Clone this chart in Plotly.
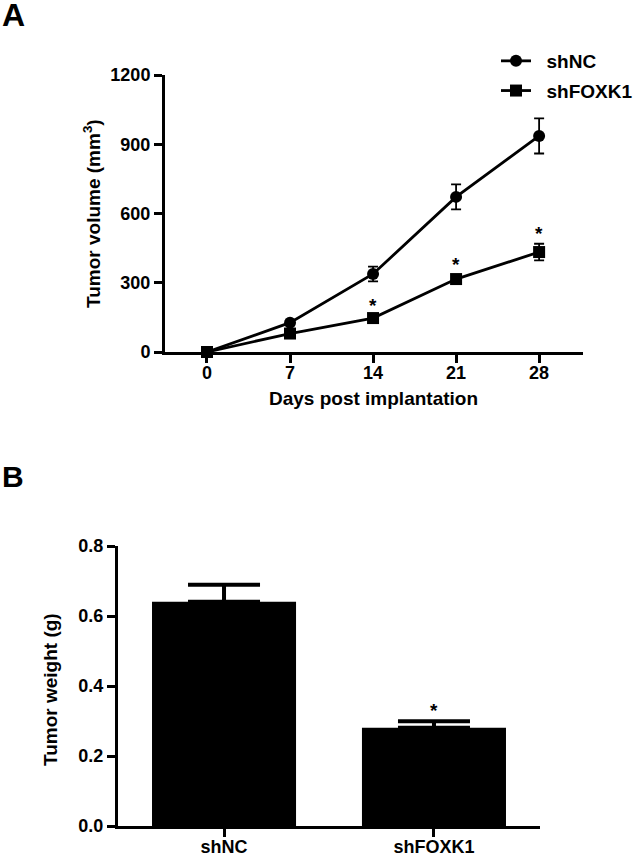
import plotly.graph_objects as go

# ---- Panel A data ----
days = [0, 7, 14, 21, 28]
shNC_vol = [0, 127, 338, 672, 936]
shNC_err = [0, 8, 32, 54, 76]
shFOXK1_vol = [0, 80, 147, 316, 433]
shFOXK1_err = [0, 8, 10, 16, 36]
sig_days = [14, 21, 28]
xticks_a = [0, 7, 14, 21, 28]
yticks_a = [0, 300, 600, 900, 1200]

# ---- Panel B data ----
groups = ["shNC", "shFOXK1"]
weight = [0.641, 0.281]
weight_err = [0.048, 0.018]
yticks_b = [0.0, 0.2, 0.4, 0.6, 0.8]
ytick_b_text = ["0.0", "0.2", "0.4", "0.6", "0.8"]

FONT = "Liberation Sans, Arial, sans-serif"
W, H = 633, 854

fig = go.Figure()

fig.add_trace(go.Scatter(
    x=days, y=shNC_vol, mode="lines+markers", name="&nbsp;&nbsp;shNC",
    line=dict(color="black", width=2.8),
    marker=dict(symbol="circle", size=12, color="black"),
    error_y=dict(type="data", array=shNC_err, color="black", thickness=1.8, width=5),
    cliponaxis=False, xaxis="x", yaxis="y", legendgroup="a"))
fig.add_trace(go.Scatter(
    x=days, y=shFOXK1_vol, mode="lines+markers", name="&nbsp;&nbsp;shFOXK1",
    line=dict(color="black", width=2.8),
    marker=dict(symbol="square", size=12, color="black"),
    error_y=dict(type="data", array=shFOXK1_err, color="black", thickness=1.8, width=5),
    cliponaxis=False, xaxis="x", yaxis="y", legendgroup="b"))

fig.add_trace(go.Bar(
    x=[0, 1], y=weight, width=0.686, marker=dict(color="black", line=dict(width=0)),
    error_y=dict(type="data", array=weight_err, arrayminus=[0, 0], symmetric=False,
                 color="black", thickness=4, width=36),
    showlegend=False, xaxis="x2", yaxis="y2"))

axis_common = dict(showline=True, linecolor="black", linewidth=3, ticks="outside",
                   ticklen=8, tickwidth=2.5, tickcolor="black", showgrid=False,
                   zeroline=False, tickfont=dict(family=FONT, size=18, color="black", weight="bold"))

fig.update_layout(
    width=W, height=H, margin=dict(l=0, r=0, t=0, b=0, autoexpand=False),
    paper_bgcolor="white", plot_bgcolor="white",
    font=dict(family=FONT, color="black", weight="bold"),
    xaxis=dict(domain=[165 / W, 583 / W], range=[-3.54, 31.7], tickvals=xticks_a,
               anchor="y", ticklabelstandoff=-6, **axis_common),
    yaxis=dict(domain=[1 - 352 / H, 1 - 75 / H], range=[0, 1200], tickvals=yticks_a,
               anchor="x", **axis_common),
    xaxis2=dict(domain=[118 / W, 540 / W], range=[-0.505, 1.505], tickvals=[0, 1],
                ticktext=groups, anchor="y2", ticklabelstandoff=-6, **axis_common),
    yaxis2=dict(domain=[1 - 826 / H, 1 - 546 / H], range=[0, 0.8], tickvals=yticks_b,
                ticktext=ytick_b_text, anchor="x2", **axis_common),
    legend=dict(x=496 / W, y=1 - 42 / H, xanchor="left", yanchor="top",
                font=dict(family=FONT, size=19, color="black", weight="bold"),
                tracegroupgap=2, bgcolor="rgba(0,0,0,0)"),
    showlegend=True,
)

ann = []
ann.append(dict(text="A", x=0, y=1, xref="paper", yref="paper", xanchor="left",
                yanchor="top", yshift=5, showarrow=False,
                font=dict(family=FONT, size=32, weight="bold")))
ann.append(dict(text="B", x=0, y=1 - 462 / H, xref="paper", yref="paper", xanchor="left",
                yanchor="top", yshift=4, showarrow=False,
                font=dict(family=FONT, size=30, weight="bold")))
ann.append(dict(text="Tumor volume (mm<sup>3</sup>)", x=92 / W, y=1 - 214 / H, xref="paper",
                yref="paper", textangle=-90, showarrow=False, xanchor="center", yanchor="middle",
                font=dict(family=FONT, size=19, weight="bold")))
ann.append(dict(text="Days post implantation", x=373 / W, y=1 - 398 / H, xref="paper",
                yref="paper", showarrow=False, xanchor="center", yanchor="middle",
                font=dict(family=FONT, size=19, weight="bold")))
ann.append(dict(text="Tumor weight (g)", x=50 / W, y=1 - 690 / H, xref="paper",
                yref="paper", textangle=-90, showarrow=False, xanchor="center", yanchor="middle",
                font=dict(family=FONT, size=19, weight="bold")))

for d in sig_days:
    i = days.index(d)
    ann.append(dict(text="*", x=d, y=shFOXK1_vol[i] + shFOXK1_err[i], xref="x", yref="y",
                    yanchor="bottom", showarrow=False, yshift=-2,
                    font=dict(family=FONT, size=19, weight="bold")))
ann.append(dict(text="*", x=1, y=weight[1] + weight_err[1], xref="x2", yref="y2",
                yanchor="bottom", showarrow=False, yshift=-2,
                font=dict(family=FONT, size=19, weight="bold")))

fig.update_layout(annotations=ann)
fig.write_html("out.html", config={"displayModeBar": False},
               post_script="document.body.style.margin='0';")
